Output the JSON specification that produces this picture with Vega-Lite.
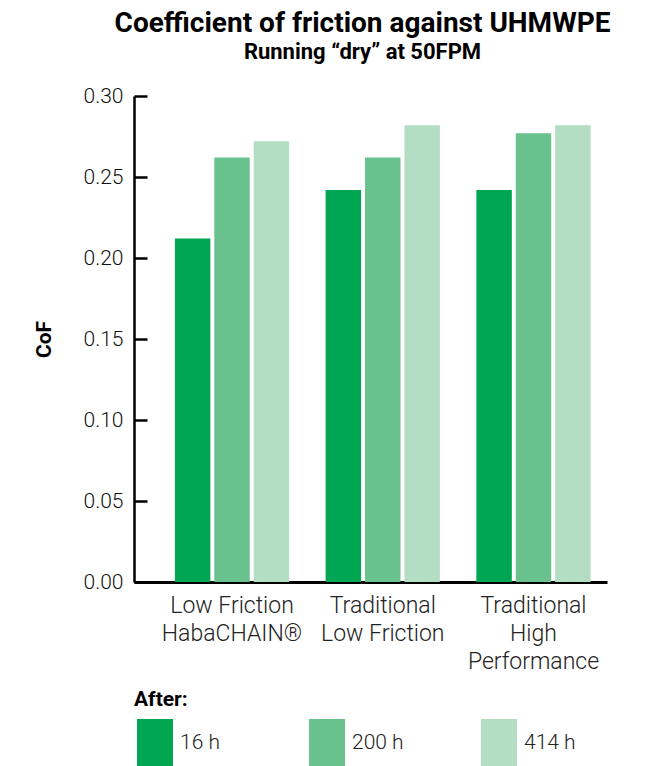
{
  "$schema": "https://vega.github.io/schema/vega-lite/v6.json",
  "width": 473,
  "height": 486,
  "autosize": {"type": "none"},
  "padding": {"left": 134, "top": 96, "right": 43, "bottom": 184},
  "background": "white",
  "title": {
    "text": "Coefficient of friction against UHMWPE",
    "subtitle": "Running “dry” at 50FPM",
    "anchor": "middle",
    "frame": "group",
    "font": "Roboto",
    "fontSize": 28,
    "fontWeight": "bold",
    "color": "black",
    "subtitleFont": "Roboto",
    "subtitleFontSize": 22,
    "subtitleFontWeight": "bold",
    "subtitleColor": "black",
    "subtitlePadding": 4,
    "offset": 22,
    "dx": -8
  },
  "data": {
    "values": [
      {"product": "Low Friction HabaCHAIN®", "after": "16 h", "cof": 0.212},
      {"product": "Low Friction HabaCHAIN®", "after": "200 h", "cof": 0.262},
      {"product": "Low Friction HabaCHAIN®", "after": "414 h", "cof": 0.272},
      {"product": "Traditional Low Friction", "after": "16 h", "cof": 0.242},
      {"product": "Traditional Low Friction", "after": "200 h", "cof": 0.262},
      {"product": "Traditional Low Friction", "after": "414 h", "cof": 0.282},
      {"product": "Traditional High Performance", "after": "16 h", "cof": 0.242},
      {"product": "Traditional High Performance", "after": "200 h", "cof": 0.277},
      {"product": "Traditional High Performance", "after": "414 h", "cof": 0.282}
    ]
  },
  "mark": {"type": "bar"},
  "encoding": {
    "x": {
      "field": "product",
      "type": "nominal",
      "sort": ["Low Friction HabaCHAIN®", "Traditional Low Friction", "Traditional High Performance"],
      "scale": {"paddingInner": 0.242, "paddingOuter": 0.19, "align": 0.714},
      "title": null,
      "axis": {
        "labelAngle": 0,
        "ticks": false,
        "domain": true,
        "domainColor": "black",
        "domainWidth": 3,
        "labelFont": "Roboto",
        "labelFontSize": 23,
        "labelFontWeight": 300,
        "labelColor": "#222222",
        "labelPadding": 12,
        "labelBaseline": "top",
        "labelLineHeight": 28,
        "labelLimit": 300,
        "labelExpr": "datum.value == 'Low Friction HabaCHAIN®' ? ['Low Friction', 'HabaCHAIN®'] : datum.value == 'Traditional Low Friction' ? ['Traditional', 'Low Friction'] : ['Traditional', 'High', 'Performance']"
      }
    },
    "xOffset": {
      "field": "after",
      "type": "nominal",
      "sort": ["16 h", "200 h", "414 h"],
      "scale": {"paddingInner": 0.1, "paddingOuter": 0}
    },
    "y": {
      "field": "cof",
      "type": "quantitative",
      "title": "CoF",
      "scale": {"domain": [0, 0.3], "nice": false, "zero": true},
      "axis": {
        "values": [0, 0.05, 0.1, 0.15, 0.2, 0.25, 0.3],
        "format": ".2f",
        "grid": false,
        "domain": true,
        "domainColor": "black",
        "domainWidth": 2.5,
        "ticks": true,
        "tickSize": -13,
        "tickWidth": 2.5,
        "tickColor": "black",
        "labelFont": "Roboto",
        "labelFontSize": 21,
        "labelFontWeight": 300,
        "labelColor": "#111111",
        "labelPadding": 24,
        "titleFont": "Roboto",
        "titleFontSize": 21,
        "titleFontWeight": "bold",
        "titleColor": "black",
        "titlePadding": 29
      }
    },
    "color": {
      "field": "after",
      "type": "nominal",
      "scale": {"domain": ["16 h", "200 h", "414 h"], "range": ["#00A651", "#69C18E", "#B4DEC3"]},
      "legend": {
        "title": "After:",
        "orient": "bottom",
        "direction": "horizontal",
        "columns": 3,
        "gridAlign": "all",
        "columnPadding": 74,
        "symbolType": "M-0.875,-1H0.625V1H-0.875Z",
        "symbolSize": 2304,
        "symbolStrokeWidth": 0,
        "symbolOpacity": 1,
        "labelFont": "Roboto",
        "labelFontSize": 21,
        "labelFontWeight": 300,
        "labelColor": "#222222",
        "labelOffset": -2,
        "titleFont": "Roboto",
        "titleFontSize": 21,
        "titleFontWeight": "bold",
        "titleColor": "black",
        "titlePadding": 9,
        "offset": 16,
        "padding": 0
      }
    }
  },
  "config": {
    "view": {"stroke": null}
  }
}
